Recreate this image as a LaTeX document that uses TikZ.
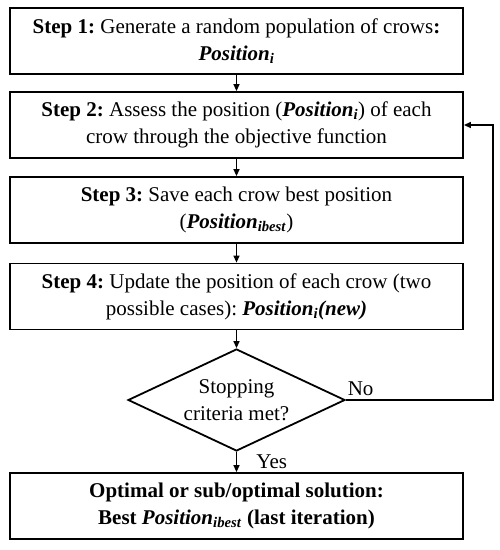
\documentclass[tikz,border=0pt]{standalone}
\usepackage{fontspec}
\setmainfont{Liberation Serif}
\usetikzlibrary{arrows.meta, shapes.geometric}
\newcommand{\pos}[1]{\textbf{\textit{Position}\textsubscript{\textit{#1}}}}
\frenchspacing

\begin{document}
\begin{tikzpicture}[x=1pt, y=-1pt, >={Triangle[length=7pt, width=6pt]},
	line join=miter, font=\fontsize{21}{27}\selectfont,
	stepbox/.style={draw, line width=1.8pt, minimum width=453pt, minimum height=66pt,
		align=center, inner sep=2pt},
	decision/.style={draw, diamond, line width=1.8pt, aspect=2.1, inner sep=0pt,
		minimum width=217pt, minimum height=102pt, align=center},
	flow/.style={->, line width=1.3pt}]
\useasboundingbox (0,0) rectangle (500,550);
%========================
% steps
%========================
\node[stepbox] (step1) at (236.5,41) {\textbf{Step 1:} Generate a random population of crows\textbf{:}\\ \pos{i}};
\node[stepbox] (step2) at (236.5,125) {\textbf{Step 2:} Assess the position (\pos{i}) of each\\ crow through the objective function};
\node[stepbox] (step3) at (236.5,210) {\textbf{Step 3:} Save each crow best position\\ (\pos{ibest})};
\node[stepbox] (step4) at (236.5,296.5) {\textbf{Step 4:} Update the position of each crow (two\\ possible cases): \pos{i}\textbf{\textit{(new)}}};

% decision
\node[decision] (stop) at (236.5,400) {Stopping\\ criteria met?};

% result
\node[stepbox, font=\fontsize{21}{27}\selectfont\bfseries] (best) at (236.5,506)
	{Optimal or sub/optimal solution:\\ Best \textit{Position}\textsubscript{\textit{ibest}} (last iteration)};

%========================
% connectors
%========================
\draw[flow] (step1) -- (step2);
\draw[flow] (step2) -- (step3);
\draw[flow] (step3) -- (step4);
\draw[flow] (step4) -- (stop);
\draw[flow] (stop) -- node[right, xshift=16pt] {Yes} (best);

% loop back
\coordinate (back) at (493,400);
\draw[flow] (stop.east) -- node[above, pos=0.1] {No} (back) |- (step2.east);
\end{tikzpicture}
\end{document}
